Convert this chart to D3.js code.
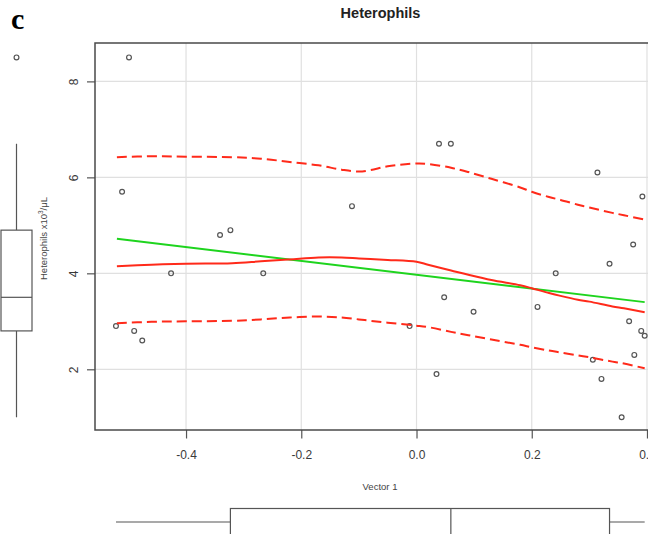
<!DOCTYPE html>
<html><head><meta charset="utf-8">
<script src="https://cdn.jsdelivr.net/npm/d3@7"></script>
<style>body{margin:0;background:#fff} svg{display:block}</style>
</head><body>
<svg id="c" width="648" height="534"></svg>
<script>
// ---- data ----
const vector1 = [-0.499,-0.511,-0.112,-0.323,-0.341,-0.426,-0.266,-0.5216,-0.490,-0.476,
                 0.039,0.0596,0.314,0.392,0.376,0.335,0.2416,0.048,0.099,0.210,
                 -0.012,0.369,0.390,0.396,0.378,0.306,0.321,0.0347,0.356];
const heterophils = [8.5,5.7,5.4,4.9,4.8,4.0,4.0,2.9,2.8,2.6,
                     6.7,6.7,6.1,5.6,4.6,4.2,4.0,3.5,3.2,3.3,
                     2.9,3.0,2.8,2.7,2.3,2.2,1.8,1.9,1.0];
const xTicks = [-0.4,-0.2,0.0,0.2,0.4];
const yTicks = [2,4,6,8];
const linearX = [-0.52, 0.396];
const linearFit = [4.72, 3.40];
const smoothX =     [-0.52,-0.46,-0.40,-0.32,-0.27,-0.22,-0.17,-0.13,-0.10,-0.08,-0.05,0.00,0.02,0.06,0.09,0.13,0.18,0.20,0.23,0.25,0.28,0.30,0.34,0.36,0.396];
const smoothFit =   [4.15, 4.18, 4.20, 4.21, 4.25, 4.29, 4.33, 4.33, 4.31, 4.30, 4.28, 4.24,4.18,4.06,3.97,3.86,3.75,3.69,3.59,3.53,3.45,3.41,3.31,3.27,3.19];
const smoothUpper = [6.42, 6.44, 6.43, 6.42, 6.39, 6.32, 6.25, 6.16, 6.12, 6.15, 6.23, 6.29,6.28,6.20,6.11,5.97,5.79,5.70,5.59,5.53,5.43,5.37,5.26,5.21,5.12];
const smoothLower = [2.96, 2.99, 3.00, 3.01, 3.04, 3.08, 3.10, 3.08, 3.04, 3.01, 2.97, 2.91,2.88,2.78,2.71,2.62,2.51,2.46,2.39,2.35,2.29,2.25,2.16,2.12,2.02];
const title = "Heterophils";
const xLabel = "Vector 1";
const panelLetter = "c";

// ---- layout ----
const L = 95, R = 666, T = 43, B = 430;
const svg = d3.select("#c");
const x = d3.scaleLinear().domain([-0.558, 0.433]).range([L, R]);
const y = d3.scaleLinear().domain([0.735, 8.80]).range([B, T]);
const font = "'Liberation Sans', Arial, Helvetica, sans-serif";

// grid
const grid = svg.append("g").attr("stroke", "#e0e0e0").attr("stroke-width", 1.2);
grid.selectAll(".gx").data(xTicks).join("line")
  .attr("x1", d => x(d)).attr("x2", d => x(d)).attr("y1", T).attr("y2", B);
grid.selectAll(".gy").data(yTicks).join("line")
  .attr("x1", L).attr("x2", R).attr("y1", d => y(d)).attr("y2", d => y(d));

// axes
const xAxis = svg.append("g").attr("transform", `translate(0,${B})`)
  .call(d3.axisBottom(x).tickValues(xTicks).tickSize(8.5).tickFormat(d => d.toFixed(1)));
xAxis.select(".domain").remove();
xAxis.selectAll("line").attr("stroke", "#555").attr("stroke-width", 1.2);
xAxis.selectAll("text").attr("y", 28.5).attr("dy", 0)
  .attr("font-family", font).attr("font-size", 12).attr("fill", "#3a3a3a");

const yAxis = svg.append("g").attr("transform", `translate(${L},0)`)
  .call(d3.axisLeft(y).tickValues(yTicks).tickSize(8).tickFormat(d3.format("d")));
yAxis.select(".domain").remove();
yAxis.selectAll("line").attr("stroke", "#555").attr("stroke-width", 1.2);
yAxis.selectAll("text").attr("x", 0).attr("y", 0).attr("dy", 0)
  .attr("transform", "translate(-17,0) rotate(-90)").attr("text-anchor", "middle")
  .attr("font-family", font).attr("font-size", 12).attr("fill", "#3a3a3a");

// frame
svg.append("rect").attr("x", L).attr("y", T).attr("width", R - L).attr("height", B - T)
  .attr("fill", "none").attr("stroke", "#4a4a4a").attr("stroke-width", 1.5);

// points
const pts = vector1.map((v, i) => ({x: v, y: heterophils[i]}));
svg.append("g").selectAll("circle").data(pts).join("circle")
  .attr("cx", d => x(d.x)).attr("cy", d => y(d.y)).attr("r", 2.4)
  .attr("fill", "none").attr("stroke", "#555").attr("stroke-width", 1.2);

// lines
const line = d3.line().x(d => x(d[0])).y(d => y(d[1])).curve(d3.curveCatmullRom.alpha(0.5));
svg.append("path").datum(linearX.map((v, i) => [v, linearFit[i]]))
  .attr("d", d3.line().x(d => x(d[0])).y(d => y(d[1])))
  .attr("fill", "none").attr("stroke", "#1ed41e").attr("stroke-width", 2);
svg.append("path").datum(smoothX.map((v, i) => [v, smoothFit[i]]))
  .attr("d", line).attr("fill", "none").attr("stroke", "#ff2a1a").attr("stroke-width", 2);
[smoothUpper, smoothLower].forEach(arr => {
  svg.append("path").datum(smoothX.map((v, i) => [v, arr[i]]))
    .attr("d", line).attr("fill", "none").attr("stroke", "#ff2a1a").attr("stroke-width", 2)
    .attr("stroke-dasharray", "10,5");
});

// titles
svg.append("text").attr("x", (L + R) / 2).attr("y", 17.5).attr("text-anchor", "middle")
  .attr("font-family", font).attr("font-weight", "bold").attr("font-size", 14.5).attr("fill", "#222")
  .text(title);
svg.append("text").attr("x", 380).attr("y", 489.5).attr("text-anchor", "middle")
  .attr("font-family", font).attr("font-size", 9.5).attr("fill", "#444").text(xLabel);
const yl = svg.append("text").attr("transform", "translate(46.5,238.5) rotate(-90)")
  .attr("text-anchor", "middle").attr("font-family", font).attr("font-size", 9.5).attr("fill", "#444");
yl.append("tspan").text("Heterophils x10");
yl.append("tspan").attr("dy", -3.5).attr("font-size", 6.5).text("3");
yl.append("tspan").attr("dy", 3.5).text("/μL");
svg.append("text").attr("x", 11).attr("y", 29).attr("font-family", "'Liberation Serif', 'Times New Roman', serif")
  .attr("font-weight", "bold").attr("font-size", 30).attr("fill", "#000").text(panelLetter);

// boxplot stats computed from the data
function boxStats(vals) {
  const s = vals.slice().sort(d3.ascending);
  const q1 = d3.quantile(s, 0.25), med = d3.quantile(s, 0.5), q3 = d3.quantile(s, 0.75);
  const iqr = q3 - q1;
  const inside = s.filter(v => v >= q1 - 1.5 * iqr && v <= q3 + 1.5 * iqr);
  return {q1, med, q3, lo: d3.min(inside), hi: d3.max(inside),
          out: s.filter(v => v < q1 - 1.5 * iqr || v > q3 + 1.5 * iqr)};
}
const bs = "#555";
// left (vertical) boxplot for heterophils
const by = boxStats(heterophils);
const lb = svg.append("g").attr("stroke", bs).attr("stroke-width", 1.2).attr("fill", "none");
const bx0 = 1, bx1 = 32, bxm = 16.5;
lb.append("line").attr("x1", bxm).attr("x2", bxm).attr("y1", y(by.hi)).attr("y2", y(by.q3));
lb.append("line").attr("x1", bxm).attr("x2", bxm).attr("y1", y(by.q1)).attr("y2", y(by.lo));
lb.append("rect").attr("x", bx0).attr("width", bx1 - bx0).attr("y", y(by.q3)).attr("height", y(by.q1) - y(by.q3)).attr("fill", "#fff");
lb.append("line").attr("x1", bx0).attr("x2", bx1).attr("y1", y(by.med)).attr("y2", y(by.med));
lb.selectAll("circle").data(by.out).join("circle").attr("cx", bxm).attr("cy", d => y(d)).attr("r", 2.4).attr("stroke-width", 1.2);
// bottom (horizontal) boxplot for vector 1
const bxs = boxStats(vector1);
const bb = svg.append("g").attr("stroke", bs).attr("stroke-width", 1.2).attr("fill", "none");
const by0 = 508.5, by1 = 536, bym = 522;
bb.append("line").attr("y1", bym).attr("y2", bym).attr("x1", x(bxs.lo)).attr("x2", x(bxs.q1));
bb.append("line").attr("y1", bym).attr("y2", bym).attr("x1", x(bxs.q3)).attr("x2", x(bxs.hi));
bb.append("rect").attr("y", by0).attr("height", by1 - by0).attr("x", x(bxs.q1)).attr("width", x(bxs.q3) - x(bxs.q1)).attr("fill", "#fff");
bb.append("line").attr("y1", by0).attr("y2", by1).attr("x1", x(bxs.med)).attr("x2", x(bxs.med));
bb.selectAll("circle").data(bxs.out).join("circle").attr("cy", bym).attr("cx", d => x(d)).attr("r", 2.4).attr("stroke-width", 1.2);
</script>
</body></html>
